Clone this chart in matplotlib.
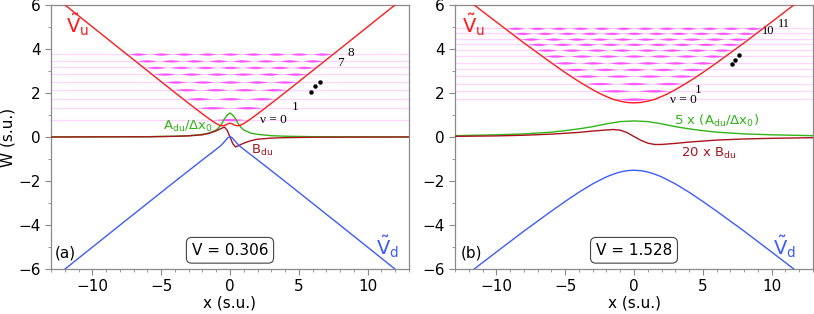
import numpy as np
import matplotlib
matplotlib.use("Agg")
import matplotlib.pyplot as plt
from matplotlib.ticker import MultipleLocator

plt.rcParams['font.family'] = ['DejaVu Sans']
plt.rcParams['mathtext.default'] = 'regular'

# ---- panel (a), V = 0.306 ----
xa_pot = [-13, -12, -8, -4, -3, -2, -1.5, -1, -0.7, -0.5, -0.3, -0.15, 0,
          0.15, 0.3, 0.5, 0.7, 1, 1.5, 2, 3, 4, 8, 12, 13]
vu_a = [6.51, 6.01, 4.01, 2.02, 1.53, 1.05, 0.82, 0.61, 0.52, 0.51, 0.55, 0.60, 0.63,
        0.60, 0.55, 0.51, 0.52, 0.61, 0.82, 1.05, 1.53, 2.02, 4.01, 6.01, 6.51]
vd_a = [-6.51, -6.01, -4.01, -2.02, -1.53, -1.04, -0.80, -0.56, -0.41, -0.28, -0.14, -0.03, 0.01,
        -0.03, -0.14, -0.28, -0.41, -0.56, -0.80, -1.04, -1.53, -2.02, -4.01, -6.01, -6.51]
xa_cpl = [-13, -6, -4, -3, -2, -1.5, -1, -0.8, -0.6, -0.4, -0.2, 0,
          0.2, 0.4, 0.6, 0.8, 1, 1.5, 2, 3, 4, 6, 13]
A_a = [0.005, 0.015, 0.035, 0.06, 0.12, 0.18, 0.32, 0.44, 0.60, 0.83, 1.00, 1.09,
       1.00, 0.83, 0.60, 0.44, 0.32, 0.18, 0.12, 0.06, 0.035, 0.015, 0.005]
B_a = [0.0, 0.01, 0.03, 0.05, 0.10, 0.17, 0.28, 0.34, 0.40, 0.45, 0.30, 0.0,
       -0.30, -0.45, -0.40, -0.34, -0.28, -0.17, -0.10, -0.05, -0.03, -0.01, 0.0]
levels_a = [0.79, 1.33, 1.74, 2.15, 2.50, 2.86, 3.16, 3.46, 3.77]

# ---- panel (b), V = 1.528 ----
xb_pot = [-13, -12, -10, -8, -6, -5, -4, -3, -2.5, -2, -1.5, -1, -0.5, 0,
          0.5, 1, 1.5, 2, 2.5, 3, 4, 5, 6, 8, 10, 12, 13]
vu_b = [6.68, 6.19, 5.23, 4.28, 3.37, 2.93, 2.52, 2.15, 1.98, 1.84, 1.71, 1.63, 1.57, 1.55,
        1.57, 1.63, 1.71, 1.84, 1.98, 2.15, 2.52, 2.93, 3.37, 4.28, 5.23, 6.19, 6.68]
vd_b = [-6.68, -6.19, -5.23, -4.28, -3.37, -2.93, -2.51, -2.13, -1.97, -1.81, -1.69, -1.59, -1.53, -1.51,
        -1.53, -1.59, -1.69, -1.81, -1.97, -2.13, -2.51, -2.93, -3.37, -4.28, -5.23, -6.19, -6.68]
xb_A = [-13, -10, -8, -6, -5, -4, -3, -2, -1, 0, 1, 2, 3, 4, 5, 6, 8, 10, 13]
A_b = [0.06, 0.10, 0.14, 0.22, 0.29, 0.37, 0.47, 0.60, 0.70, 0.73,
       0.70, 0.60, 0.47, 0.37, 0.29, 0.22, 0.14, 0.10, 0.06]
xb_B = [-13, -10, -8, -6, -4, -3, -2, -1.5, -1, -0.5, 0, 0.5, 1, 1.5, 2, 3, 4, 6, 8, 10, 13]
B_b = [0.03, 0.05, 0.08, 0.13, 0.21, 0.27, 0.32, 0.34, 0.31, 0.20, 0.02, -0.15, -0.28, -0.34,
       -0.34, -0.29, -0.23, -0.14, -0.09, -0.06, -0.03]
levels_b = [1.72, 2.10, 2.43, 2.77, 3.07, 3.37, 3.68, 3.95, 4.21, 4.45, 4.71, 4.94]

# "..." markers between level labels
dots_a_x, dots_a_y = [5.85, 6.15, 6.5], [2.05, 2.3, 2.52]
dots_b_x, dots_b_y = [7.1, 7.37, 7.65], [3.3, 3.5, 3.72]

RED = '#ff1a1a'
BLUE = '#3d5cff'
GREEN = '#33b319'
BROWN = '#a8141e'
MAG = '#ff22ff'
PALE = '#ffd6ff'
SERIF = ['Liberation Serif', 'DejaVu Serif']


def draw_levels(ax, xpot, vu, levels):
    xs = np.linspace(-13, 13, 2001)
    vus = np.interp(xs, xpot, vu)
    for n, E in enumerate(levels):
        ax.axhline(E, color=PALE, lw=0.9, zorder=1)
        inside = vus < E
        xl, xr = xs[inside].min(), xs[inside].max()
        rho = np.where(inside, np.sin((n + 1) * np.pi * (xs - xl) / (xr - xl)) ** 2, 0)
        ax.fill_between(xs, E - 0.055 * rho, E + 0.055 * rho, color=MAG, lw=0, alpha=0.7, zorder=2)


def style(ax):
    ax.set_xlim(-13, 13)
    ax.set_ylim(-6, 6)
    ax.xaxis.set_major_locator(MultipleLocator(5))
    ax.xaxis.set_minor_locator(MultipleLocator(1))
    ax.yaxis.set_major_locator(MultipleLocator(2))
    ax.yaxis.set_minor_locator(MultipleLocator(1))
    for s in ax.spines.values():
        s.set_color('#8a8a8a')
        s.set_linewidth(0.9)
    ax.tick_params(which='both', direction='out', color='#8a8a8a', labelsize=11, top=False, right=False)
    ax.tick_params(which='major', length=4)
    ax.tick_params(which='minor', length=2.5)
    ax.set_xlabel('x (s.u.)', fontsize=11, labelpad=1)


fig = plt.figure(figsize=(8.14, 3.14), dpi=100)
ax1 = fig.add_axes([51 / 814, 45 / 314, 358 / 814, 264 / 314])
ax2 = fig.add_axes([455 / 814, 45 / 314, 358 / 814, 264 / 314])

# panel (a)
draw_levels(ax1, xa_pot, vu_a, levels_a)
ax1.plot(xa_cpl, A_a, color=GREEN, lw=1, zorder=3)
ax1.plot(xa_cpl, B_a, color=BROWN, lw=1, zorder=3)
ax1.plot(xa_pot, vu_a, color=RED, lw=1, zorder=4)
ax1.plot(xa_pot, vd_a, color=BLUE, lw=1, zorder=4)
style(ax1)
ax1.set_ylabel('W (s.u.)', fontsize=11, labelpad=2)
ax1.text(-11.9, 5.1, r'$\tilde{V}_u$', color=RED, fontsize=14, va='center')
ax1.text(10.6, -5.0, r'$\tilde{V}_d$', color=BLUE, fontsize=14, va='center')
ax1.text(-4.9, 0.5, r'$A_{du}/\Delta x_0$', color=GREEN, fontsize=9.5, va='center')
ax1.text(1.5, -0.6, r'$B_{du}$', color=BROWN, fontsize=9.5, va='center')
ax1.text(-12.7, -5.25, '(a)', fontsize=11, va='center')
ax1.text(0, -5.15, 'V = 0.306', fontsize=11, ha='center', va='center',
         bbox=dict(boxstyle='round,pad=0.35', fc='white', ec='#444444', lw=0.8))
ax1.text(2.2, 0.76, 'ν = 0', fontsize=9.5, family=SERIF, va='center')
ax1.text(4.5, 1.35, '1', fontsize=9.5, family=SERIF, va='center')
ax1.plot(dots_a_x, dots_a_y, 'o', color='black', ms=2.2, zorder=5)
ax1.text(7.8, 3.35, '7', fontsize=9.5, family=SERIF, va='center')
ax1.text(8.5, 3.8, '8', fontsize=9.5, family=SERIF, va='center')

# panel (b)
draw_levels(ax2, xb_pot, vu_b, levels_b)
ax2.plot(xb_A, A_b, color=GREEN, lw=1, zorder=3)
ax2.plot(xb_B, B_b, color=BROWN, lw=1, zorder=3)
ax2.plot(xb_pot, vu_b, color=RED, lw=1, zorder=4)
ax2.plot(xb_pot, vd_b, color=BLUE, lw=1, zorder=4)
style(ax2)
ax2.text(-12.5, 5.1, r'$\tilde{V}_u$', color=RED, fontsize=14, va='center')
ax2.text(10.1, -5.0, r'$\tilde{V}_d$', color=BLUE, fontsize=14, va='center')
ax2.text(2.9, 0.72, r'$5\ x\ (A_{du}/\Delta x_0)$', color=GREEN, fontsize=9.5, va='center')
ax2.text(3.4, -0.75, r'$20\ x\ B_{du}$', color=BROWN, fontsize=9.5, va='center')
ax2.text(-12.6, -5.25, '(b)', fontsize=11, va='center')
ax2.text(0, -5.15, 'V = 1.528', fontsize=11, ha='center', va='center',
         bbox=dict(boxstyle='round,pad=0.35', fc='white', ec='#444444', lw=0.8))
ax2.text(2.6, 1.7, 'ν = 0', fontsize=9.5, family=SERIF, va='center')
ax2.text(4.4, 2.15, '1', fontsize=9.5, family=SERIF, va='center')
ax2.plot(dots_b_x, dots_b_y, 'o', color='black', ms=2.2, zorder=5)
ax2.text(9.3, 4.82, '10', fontsize=9, family=SERIF, va='center')
ax2.text(10.45, 5.12, '11', fontsize=9, family=SERIF, va='center')

fig.savefig('out.png', dpi=100)
